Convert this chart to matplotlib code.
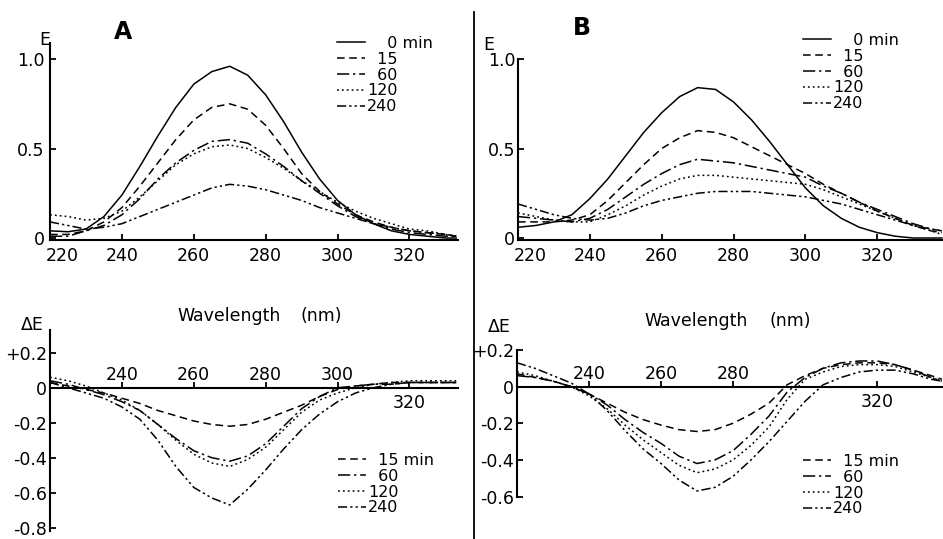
import matplotlib
matplotlib.use('Agg')
import matplotlib.pyplot as plt
import matplotlib.transforms as mtransforms
from matplotlib.lines import Line2D

W, H = 943, 539

# --- donnees --------------------------------------------------------------
# longueurs d'onde (nm)
wl_a = [220, 225, 230, 235, 240, 245, 250, 255, 260, 265, 270, 275, 280,
        285, 290, 295, 300, 305, 310, 315, 320, 325, 330, 333]
wl_b = [220, 225, 230, 235, 240, 245, 250, 255, 260, 265, 270, 275, 280,
        285, 290, 295, 300, 305, 310, 315, 320, 325, 330, 335, 338]

# A : extinction E
e_a_0 = [0.04, 0.035, 0.05, 0.12, 0.24, 0.40, 0.57, 0.73, 0.86, 0.93, 0.96, 0.91,
         0.80, 0.65, 0.48, 0.33, 0.21, 0.13, 0.08, 0.04, 0.02, 0.01, 0.0, 0.0]
e_a_15 = [0.02, 0.02, 0.04, 0.09, 0.17, 0.29, 0.42, 0.55, 0.66, 0.73, 0.75, 0.72,
          0.63, 0.50, 0.36, 0.26, 0.19, 0.13, 0.09, 0.06, 0.04, 0.03, 0.02, 0.01]
e_a_60 = [0.01, 0.01, 0.04, 0.07, 0.13, 0.22, 0.33, 0.42, 0.49, 0.54, 0.55, 0.53,
          0.47, 0.40, 0.32, 0.25, 0.18, 0.12, 0.08, 0.05, 0.03, 0.02, 0.01, 0.01]
e_a_120 = [0.13, 0.12, 0.10, 0.11, 0.15, 0.23, 0.32, 0.41, 0.47, 0.51, 0.52, 0.50,
           0.45, 0.39, 0.32, 0.26, 0.20, 0.15, 0.11, 0.08, 0.05, 0.04, 0.02, 0.01]
e_a_240 = [0.09, 0.07, 0.05, 0.06, 0.08, 0.12, 0.16, 0.20, 0.24, 0.28, 0.30, 0.29,
           0.27, 0.24, 0.21, 0.17, 0.14, 0.11, 0.08, 0.06, 0.04, 0.03, 0.02, 0.01]

# B : extinction E
e_b_0 = [0.06, 0.07, 0.09, 0.13, 0.22, 0.33, 0.46, 0.59, 0.70, 0.79, 0.84, 0.83, 0.76,
         0.66, 0.54, 0.41, 0.28, 0.18, 0.11, 0.06, 0.03, 0.01, 0.0, 0.0, 0.0]
e_b_15 = [0.09, 0.09, 0.09, 0.10, 0.13, 0.21, 0.31, 0.41, 0.50, 0.56, 0.60, 0.59, 0.56,
          0.51, 0.46, 0.41, 0.36, 0.30, 0.25, 0.20, 0.15, 0.11, 0.07, 0.04, 0.03]
e_b_60 = [0.12, 0.11, 0.10, 0.09, 0.11, 0.16, 0.23, 0.30, 0.36, 0.41, 0.44, 0.43, 0.42,
          0.40, 0.38, 0.36, 0.34, 0.29, 0.25, 0.20, 0.16, 0.12, 0.08, 0.05, 0.04]
e_b_120 = [0.14, 0.12, 0.10, 0.09, 0.09, 0.13, 0.18, 0.24, 0.29, 0.33, 0.35, 0.35, 0.34,
           0.33, 0.32, 0.31, 0.30, 0.27, 0.23, 0.19, 0.15, 0.11, 0.07, 0.04, 0.02]
e_b_240 = [0.19, 0.16, 0.13, 0.11, 0.10, 0.11, 0.14, 0.18, 0.21, 0.23, 0.25, 0.26, 0.26,
           0.26, 0.25, 0.24, 0.23, 0.21, 0.19, 0.16, 0.13, 0.10, 0.07, 0.05, 0.04]

# A : difference DeltaE
d_a_15 = [0.03, 0.01, -0.01, -0.03, -0.06, -0.09, -0.13, -0.16, -0.19, -0.21, -0.22, -0.21,
          -0.18, -0.14, -0.10, -0.05, -0.01, 0.01, 0.02, 0.03, 0.03, 0.03, 0.03, 0.03]
d_a_60 = [0.04, 0.02, -0.01, -0.04, -0.08, -0.13, -0.21, -0.29, -0.36, -0.40, -0.42, -0.39,
          -0.32, -0.22, -0.12, -0.05, 0.0, 0.01, 0.02, 0.02, 0.03, 0.03, 0.03, 0.03]
d_a_120 = [0.06, 0.04, 0.01, -0.03, -0.07, -0.13, -0.21, -0.30, -0.38, -0.43, -0.45, -0.41,
           -0.34, -0.24, -0.14, -0.07, -0.03, 0.0, 0.02, 0.03, 0.04, 0.04, 0.04, 0.04]
d_a_240 = [0.03, 0.0, -0.03, -0.06, -0.11, -0.18, -0.30, -0.45, -0.57, -0.63, -0.67, -0.58,
           -0.47, -0.35, -0.24, -0.15, -0.08, -0.03, 0.0, 0.02, 0.03, 0.03, 0.03, 0.03]

# B : difference DeltaE
d_b_15 = [0.07, 0.05, 0.03, 0.0, -0.04, -0.09, -0.14, -0.18, -0.21, -0.235, -0.245, -0.235,
          -0.20, -0.15, -0.09, 0.01, 0.06, 0.10, 0.12, 0.13, 0.13, 0.12, 0.09, 0.06, 0.04]
d_b_60 = [0.06, 0.05, 0.03, 0.0, -0.04, -0.10, -0.18, -0.25, -0.31, -0.38, -0.42, -0.40,
          -0.35, -0.26, -0.16, -0.03, 0.05, 0.10, 0.13, 0.14, 0.14, 0.12, 0.09, 0.05, 0.03]
d_b_120 = [0.08, 0.06, 0.03, 0.0, -0.05, -0.12, -0.21, -0.29, -0.36, -0.43, -0.47, -0.45,
           -0.40, -0.32, -0.22, -0.07, 0.04, 0.08, 0.11, 0.12, 0.12, 0.11, 0.08, 0.05, 0.03]
d_b_240 = [0.13, 0.10, 0.06, 0.02, -0.04, -0.13, -0.24, -0.34, -0.42, -0.51, -0.57, -0.55,
           -0.49, -0.40, -0.30, -0.19, -0.08, 0.01, 0.05, 0.08, 0.09, 0.09, 0.07, 0.04, 0.03]

labels_top = ['\u2007\u20070 min', '\u200715', '\u200760', '120', '240']
labels_bot = ['\u200715 min', '\u200760', '120', '240']

# --- styles ---------------------------------------------------------------
STYLES = {
    0: '-',
    15: (0, (5, 3)),
    60: (0, (8, 2.5, 1.5, 2.5)),
    120: (0, (1.2, 2)),
    240: (0, (6, 2, 1.5, 2, 1.5, 2)),
}
plt.rcParams['font.family'] = 'DejaVu Sans'
plt.rcParams['font.size'] = 12

fig = plt.figure(figsize=(W / 100, H / 100), dpi=100)


def box(x0, y_top, x1, y_bot):
    """rectangle en pixels -> fraction de figure"""
    return [x0 / W, 1 - y_bot / H, (x1 - x0) / W, (y_bot - y_top) / H]


def fpos(x, y):
    return x / W, 1 - y / H


def style_axe(ax):
    for s in ['top', 'right']:
        ax.spines[s].set_visible(False)
    for s in ['left', 'bottom']:
        ax.spines[s].set_linewidth(1.5)
    ax.tick_params(direction='in', length=4, width=1.3, labelsize=12.5)


def trace(ax, wl, series, temps):
    lines = []
    for y, t in zip(series, temps):
        l, = ax.plot(wl, y, color='black', lw=1.1, linestyle=STYLES[t],
                     solid_joinstyle='round', dash_joinstyle='round')
        lines.append(l)
    return lines


def legende(ax, lines, labels, x, y):
    ax.legend(lines, labels, loc='upper left', bbox_to_anchor=fpos(x, y),
              bbox_transform=fig.transFigure, frameon=False, borderpad=0,
              borderaxespad=0, handlelength=1.75, handletextpad=0.15,
              labelspacing=0.05, fontsize=11.5)


# ---- A, E -------------------------------------------------------------------
axA = fig.add_axes(box(50, 43, 458, 239.8))
style_axe(axA)
lA = trace(axA, wl_a, [e_a_0, e_a_15, e_a_60, e_a_120, e_a_240], [0, 15, 60, 120, 240])
axA.set_xlim(220, 333.5)
axA.set_ylim(-0.01, 1.09)
axA.set_yticks([0, 0.5, 1.0], ['0', '0.5', '1.0'])
axA.set_xticks([220, 240, 260, 280, 300, 320])
axA.tick_params(axis='x', pad=5.5)
axA.tick_params(axis='y', pad=4)
legende(axA, lA, labels_top, 337, 36)

# ---- B, E -------------------------------------------------------------------
axB = fig.add_axes(box(518, 59, 943, 239.8))
style_axe(axB)
lB = trace(axB, wl_b, [e_b_0, e_b_15, e_b_60, e_b_120, e_b_240], [0, 15, 60, 120, 240])
axB.set_xlim(220, 338.3)
axB.set_ylim(-0.01, 1.0)
axB.set_yticks([0, 0.5, 1.0], ['0', '0.5', '1.0'])
axB.set_xticks([220, 240, 260, 280, 300, 320])
axB.tick_params(axis='x', pad=5.5)
axB.tick_params(axis='y', pad=2)
legende(axB, lB, labels_top, 803, 33)

# 220 decale vers la droite comme sur l'original
for ax in (axA, axB):
    lab = ax.get_xticklabels()[0]
    lab.set_transform(lab.get_transform() +
                      mtransforms.ScaledTranslation(0.12, 0, fig.dpi_scale_trans))

# ---- A, DeltaE ----------------------------------------------------------------
axC = fig.add_axes(box(50, 330, 458, 531.2))
style_axe(axC)
lC = trace(axC, wl_a, [d_a_15, d_a_60, d_a_120, d_a_240], [15, 60, 120, 240])
axC.set_xlim(220, 333.5)
axC.set_ylim(-0.82, 0.33)
axC.spines['bottom'].set_position(('data', 0))
axC.set_yticks([0.2, 0, -0.2, -0.4, -0.6, -0.8],
               ['+0.2', '0', '-0.2', '-0.4', '-0.6', '-0.8'])
axC.tick_params(axis='y', pad=2)
legende(axC, lC, labels_bot, 338, 453)

# ---- B, DeltaE ----------------------------------------------------------------
axD = fig.add_axes(box(517, 350, 943, 496.5))
style_axe(axD)
lD = trace(axD, wl_b, [d_b_15, d_b_60, d_b_120, d_b_240], [15, 60, 120, 240])
axD.set_xlim(220, 338.3)
axD.set_ylim(-0.6, 0.2)
axD.spines['bottom'].set_position(('data', 0))
axD.set_yticks([0.2, 0, -0.2, -0.4, -0.6], ['+0.2', '0', '-0.2', '-0.4', '-0.6'])
axD.tick_params(axis='y', pad=2)
legende(axD, lD, labels_bot, 803, 454)

# graduations sur la ligne zero : etiquettes au-dessus, 320 en dessous
ticks_c = [240, 260, 280, 300, 320]
ticks_d = [240, 260, 280, 320]
for ax, ticks in ((axC, ticks_c), (axD, ticks_d)):
    ax.set_xticks(ticks, [''] * len(ticks))
    for t in ticks:
        dy = -11 if t == 320 else 9
        ax.annotate(str(t), xy=(t, 0), xytext=(0, dy), textcoords='offset points',
                    ha='center', va='center', fontsize=12.5)

# ---- textes -----------------------------------------------------------------
fig.text(*fpos(123, 32), 'A', fontsize=17, fontweight='bold', ha='center', va='center')
fig.text(*fpos(582, 28), 'B', fontsize=17, fontweight='bold', ha='center', va='center')
fig.text(*fpos(45, 40), 'E', fontsize=12.5, ha='center', va='center')
fig.text(*fpos(489, 45), 'E', fontsize=12.5, ha='center', va='center')
fig.text(*fpos(32, 325), '\u0394E', fontsize=12.5, ha='center', va='center')
fig.text(*fpos(499, 327), '\u0394E', fontsize=12.5, ha='center', va='center')
fig.text(*fpos(229, 316), 'Wavelength', fontsize=12.5, ha='center', va='center')
fig.text(*fpos(321, 316), '(nm)', fontsize=12.5, ha='center', va='center')
fig.text(*fpos(696, 321), 'Wavelength', fontsize=12.5, ha='center', va='center')
fig.text(*fpos(790, 321), '(nm)', fontsize=12.5, ha='center', va='center')

# trait vertical separant A et B
fig.add_artist(Line2D([474 / W, 474 / W], [0, 1 - 12 / H], transform=fig.transFigure,
                      color='black', lw=1.3))

fig.savefig('out.png', dpi=100)
